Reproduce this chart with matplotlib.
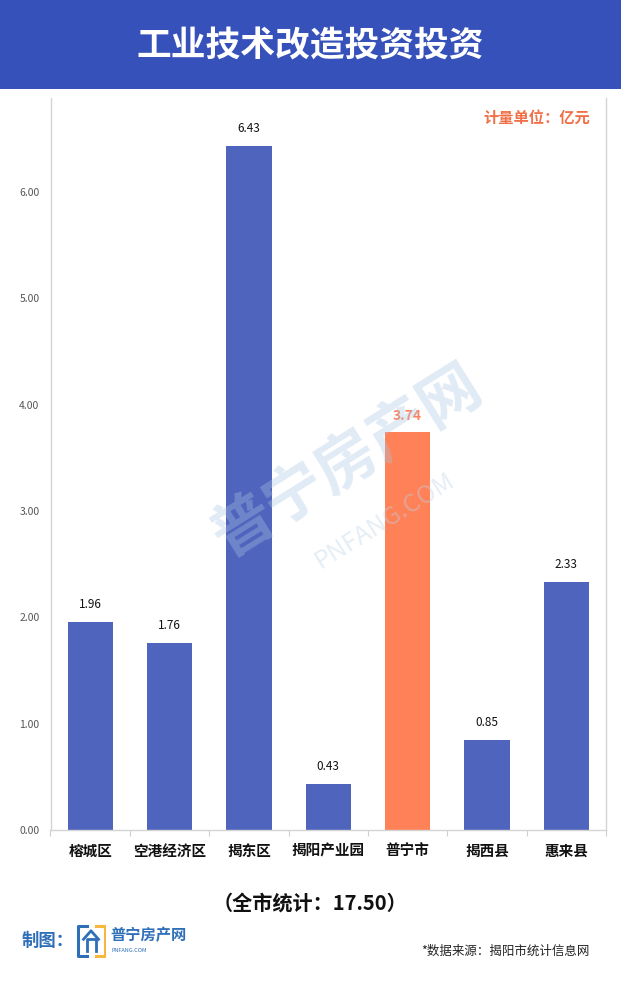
import matplotlib
matplotlib.use("Agg")
import matplotlib.pyplot as plt
from matplotlib.patches import Rectangle

plt.rcParams['font.family'] = ['Noto Sans CJK SC', 'DejaVu Sans']

categories = ["榕城区", "空港经济区", "揭东区", "揭阳产业园", "普宁市", "揭西县", "惠来县"]
values = [1.96, 1.76, 6.43, 0.43, 3.74, 0.85, 2.33]
highlight = "普宁市"
yticks = [0, 1, 2, 3, 4, 5, 6]
title = "工业技术改造投资投资"
unit_text = "计量单位：亿元"
total_text = "（全市统计：17.50）"
source_text = "*数据来源：揭阳市统计信息网"

BLUE = "#4F64BD"
ORANGE = "#FF8157"
HEADER = "#3651B9"

W, H = 621, 983
fig = plt.figure(figsize=(W / 100, H / 100), dpi=100)

# header band
fig.patches.append(Rectangle((0, 1 - 89 / H), 1, 89 / H, transform=fig.transFigure,
                             facecolor=HEADER, edgecolor="none", zorder=0))
fig.text(0.5, 1 - 46 / H, title, color="white", fontsize=25, fontweight="bold",
         ha="center", va="center")

left, right = 50.5 / W, 606 / W
bottom, top = 1 - 830 / H, 1 - 98 / H
ax = fig.add_axes([left, bottom, right - left, top - bottom])

# watermark
fig.text(0.56, 0.53, "普宁房产网", fontsize=44, fontweight="bold", color="#A9C6E3",
         alpha=0.35, rotation=32, ha="center", va="center", zorder=5)
fig.text(0.62, 0.47, "PNFANG.COM", fontsize=18, color="#BFD3E8",
         alpha=0.4, rotation=32, ha="center", va="center", zorder=5)

x = range(len(categories))
colors = [ORANGE if c == highlight else BLUE for c in categories]
ax.bar(x, values, width=0.57, color=colors, zorder=2)

for i, (c, v) in enumerate(zip(categories, values)):
    if c == highlight:
        ax.annotate(f"{v:.2f}", (i, v), xytext=(0, 7), textcoords="offset points",
                    ha="center", va="bottom", fontsize=10, fontweight="bold", color=ORANGE)
    else:
        ax.annotate(f"{v:.2f}", (i, v), xytext=(0, 8), textcoords="offset points",
                    ha="center", va="bottom", fontsize=8.5, color="#111111")

ax.set_xlim(-0.5, len(categories) - 0.5)
ax.set_ylim(0, 732 / 106.3)
ax.set_yticks(yticks)
ax.set_yticklabels([f"{t:.2f}" for t in yticks], fontsize=7.5, color="#555555")
ax.set_xticks(list(x))
ax.set_xticklabels(categories, fontsize=10.5, fontweight="bold", color="#111111")
ax.tick_params(axis="x", length=0, pad=9)
ax.tick_params(axis="y", length=0, pad=8)
ax.set_xticks([i + 0.5 for i in range(-1, len(categories))], minor=True)
ax.tick_params(axis="x", which="minor", length=4, color="#D0D0D0", width=0.8)

ax.spines["top"].set_visible(False)
for s in ["left", "right", "bottom"]:
    ax.spines[s].set_color("#D4D4D4")
    ax.spines[s].set_linewidth(1.0)

fig.text(590 / W, 1 - 118 / H, unit_text, color="#F07048", fontsize=11, fontweight="bold",
         ha="right", va="center")

fig.text(0.5, 1 - 903 / H, total_text, fontsize=14.5, fontweight="bold", color="#111111",
         ha="center", va="center")

# maker / logo
fig.text(22 / W, 1 - 941 / H, "制图：", fontsize=12.5, fontweight="bold", color="#2F6FB8",
         ha="left", va="center")
logo = fig.add_axes([76 / W, 1 - 958 / H, 30 / W, 34 / H])
logo.axis("off")
logo.set_xlim(0, 1)
logo.set_ylim(0, 1)
logo.plot([0.35, 0.05, 0.05, 0.35], [0.95, 0.95, 0.05, 0.05], color="#2F6FB8", lw=2.2)
logo.plot([0.65, 0.95, 0.95, 0.65], [0.95, 0.95, 0.05, 0.05], color="#F6B73C", lw=2.2)
logo.plot([0.25, 0.5, 0.75], [0.55, 0.8, 0.55], color="#2F6FB8", lw=2)
logo.plot([0.35, 0.35, 0.65, 0.65], [0.2, 0.55, 0.55, 0.2], color="#2F6FB8", lw=2)
fig.text(110 / W, 1 - 935 / H, "普宁房产网", fontsize=11, fontweight="bold", color="#2F6FB8",
         ha="left", va="center")
fig.text(112 / W, 1 - 950 / H, "PNFANG.COM", fontsize=4, color="#2F6FB8",
         ha="left", va="center")

fig.text(590 / W, 1 - 951 / H, source_text, fontsize=9, color="#222222",
         ha="right", va="center")

fig.savefig("out.png", dpi=100, facecolor="white")
